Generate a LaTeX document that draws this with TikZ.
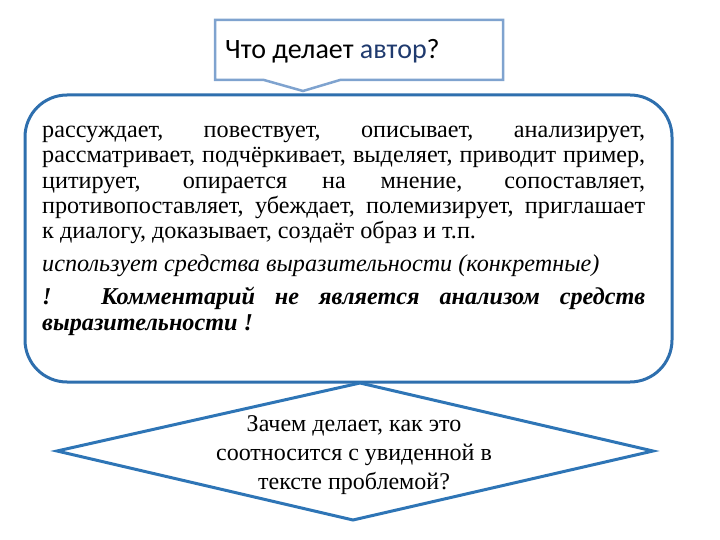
\documentclass[tikz,border=0pt]{standalone}
\usepackage{fontspec}
\setmainfont{Liberation Serif}
\newfontfamily\calib{Carlito}
\definecolor{boxblue}{HTML}{2E6FAE}
\definecolor{callblue}{HTML}{7FA3CF}
\definecolor{diablue}{HTML}{2E75B6}
\definecolor{navy}{HTML}{1F3A6E}
\newcommand{\tightspaces}{\spaceskip=.25em plus .8em minus .2em\relax}
\tikzset{
  mainbox/.style={draw=boxblue, line width=3pt, fill=white, rounded corners=42pt},
  callbox/.style={draw=callblue, line width=2.5pt, fill=white, line join=miter},
  diabox/.style={draw=diablue, line width=3pt, fill=white, line join=miter},
  bodytext/.style={font=\fontsize{24.2}{25.2}\selectfont, inner sep=0pt}
}
\begin{document}
\begin{tikzpicture}[x=1pt,y=-1pt]
\useasboundingbox (0,0) rectangle (720,540);
% callout
\coordinate (c1) at (215,20);
\coordinate (c2) at (503,20);
\coordinate (c3) at (503,80);
\coordinate (c4) at (340,80);
\coordinate (ctip) at (303,91);
\coordinate (c5) at (264,80);
\coordinate (c6) at (215,80);
\draw[callbox] (c1) -- (c2) -- (c3) -- (c4) -- (ctip) -- (c5) -- (c6) -- cycle;
\node[anchor=base west, inner sep=0pt, font=\calib\fontsize{28}{32}\selectfont] (q) at (225,59) {Что делает \textcolor{navy}{автор}?};
% main box
\node[mainbox, minimum width=647pt, minimum height=287pt, inner sep=0pt] (main) at (348.5,238.5) {};
% diamond
\coordinate (dl) at (57,451);
\coordinate (dt) at (360,383);
\coordinate (dr) at (653,451);
\coordinate (db) at (353,520);
\draw[diabox] (dl) -- (dt) -- (dr) -- (db) -- cycle;
\node[inner sep=0pt, align=center, font=\fontsize{24}{29}\selectfont] (dtext) at (354,455)
  {Зачем делает, как это\\соотносится с увиденной в\\тексте проблемой?};
% main text
\node[bodytext, anchor=north west, text width=603pt, align=justify] (txt) at (42,126)
{\tightspaces рассуждает, повествует, описывает, анализирует,\linebreak
рассматривает, подчёркивает, выделяет, приводит пример,\linebreak
цитирует, опирается на мнение, сопоставляет,\linebreak
противопоставляет, убеждает, полемизирует, приглашает\linebreak
к диалогу, доказывает, создаёт образ и т.п.\par
\vspace{7.5pt}
\textit{использует средства выразительности (конкретные)}\par
\vspace{8.5pt}
{\bfseries\itshape\tightspaces ! Комментарий не является анализом средств\linebreak выразительности !\par}};
\end{tikzpicture}
\end{document}
